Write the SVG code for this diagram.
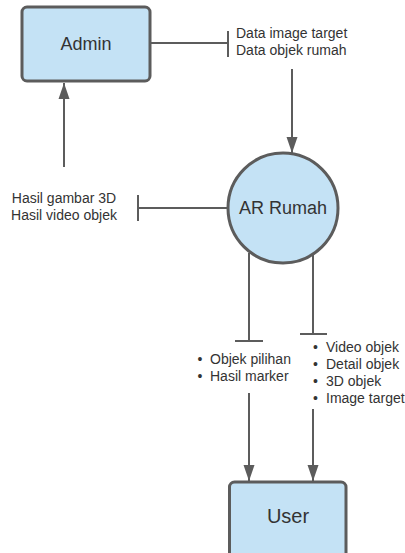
<svg xmlns="http://www.w3.org/2000/svg" width="405" height="553" viewBox="0 0 405 553">
  <defs>
    <style>
      .box { fill: #c4e2f5; stroke: #5c5c5c; stroke-width: 3; }
      .ln { fill: none; stroke: #5c5c5c; stroke-width: 2; }
      .lbl { font-family: "Liberation Sans", Arial, sans-serif; fill: #333333; }
      .big { font-size: 18px; text-anchor: middle; }
      .small { font-size: 14px; }
    </style>
    <marker id="arrow" markerUnits="userSpaceOnUse" markerWidth="16" markerHeight="12" refX="16" refY="6" orient="auto" viewBox="0 0 16 12">
      <path d="M0,0.5 L16,6 L0,11.5 Z" fill="#5c5c5c"/>
    </marker>
  </defs>

  <rect width="405" height="553" fill="#ffffff"/>

  <!-- connectors -->
  <g id="connectors">
    <!-- Admin to data label -->
    <path class="ln" d="M150,43 H228"/>
    <path class="ln" d="M228,31 V57"/>
    <!-- data label down to AR Rumah -->
    <path class="ln" d="M292,69 V153" marker-end="url(#arrow)"/>
    <!-- AR Rumah to result label -->
    <path class="ln" d="M228,208 H138"/>
    <path class="ln" d="M138,195 V221"/>
    <!-- result label up to Admin -->
    <path class="ln" d="M64,167 V83" marker-end="url(#arrow)"/>
    <!-- AR Rumah down to lists -->
    <path class="ln" d="M249,253 V341"/>
    <path class="ln" d="M235,341 H263"/>
    <path class="ln" d="M313,253 V334"/>
    <path class="ln" d="M300,334 H327"/>
    <!-- lists down to User -->
    <path class="ln" d="M249,393 V481" marker-end="url(#arrow)"/>
    <path class="ln" d="M313,409 V481" marker-end="url(#arrow)"/>
  </g>

  <g id="admin">
    <rect class="box" x="22" y="7" width="128" height="74" rx="5"/>
    <text class="lbl big" x="86" y="50">Admin</text>
  </g>

  <g id="ar-rumah">
    <circle class="box" cx="283" cy="208" r="55"/>
    <text class="lbl big" x="283" y="214">AR Rumah</text>
  </g>

  <g id="user">
    <rect class="box" x="229.5" y="482" width="116.5" height="80" rx="5"/>
    <text class="lbl big" x="288" y="523" style="font-size:20px">User</text>
  </g>

  <g id="label-data">
    <text class="lbl small" x="236" y="38">Data image target</text>
    <text class="lbl small" x="236" y="55">Data objek rumah</text>
  </g>

  <g id="label-hasil">
    <text class="lbl small" x="64" y="203" text-anchor="middle">Hasil gambar 3D</text>
    <text class="lbl small" x="64" y="220" text-anchor="middle">Hasil video objek</text>
  </g>

  <g id="list-left">
    <text class="lbl small" x="200" y="364" text-anchor="middle">•</text>
    <text class="lbl small" x="210" y="364">Objek pilihan</text>
    <text class="lbl small" x="200" y="381" text-anchor="middle">•</text>
    <text class="lbl small" x="210" y="381">Hasil marker</text>
  </g>

  <g id="list-right">
    <text class="lbl small" x="315.5" y="352" text-anchor="middle">•</text>
    <text class="lbl small" x="326" y="352">Video objek</text>
    <text class="lbl small" x="315.5" y="369" text-anchor="middle">•</text>
    <text class="lbl small" x="326" y="369">Detail objek</text>
    <text class="lbl small" x="315.5" y="386" text-anchor="middle">•</text>
    <text class="lbl small" x="326" y="386">3D objek</text>
    <text class="lbl small" x="315.5" y="403" text-anchor="middle">•</text>
    <text class="lbl small" x="326" y="403">Image target</text>
  </g>
</svg>
